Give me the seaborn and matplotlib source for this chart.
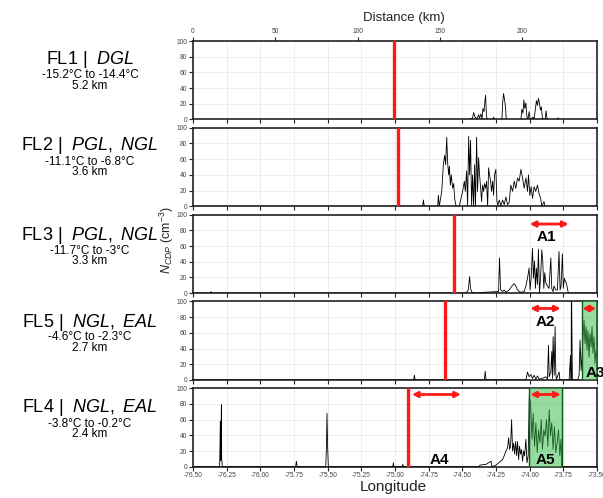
import numpy as np
import pandas as pd
import matplotlib
matplotlib.use("Agg")
import matplotlib.pyplot as plt
import seaborn as sns
from matplotlib.ticker import MultipleLocator, FormatStrFormatter

# ---------------- data ----------------
flight_names = ["FL1", "FL2", "FL3", "FL5", "FL4"]
flight_regimes = ["DGL", "PGL,\\ NGL", "PGL,\\ NGL", "NGL,\\ EAL", "NGL,\\ EAL"]
flight_temps = ["-15.2°C to -14.4°C", "-11.1°C to -6.8°C", "-11.7°C to -3°C",
                "-4.6°C to -2.3°C", "-3.8°C to -0.2°C"]
flight_alts = ["5.2 km", "3.6 km", "3.3 km", "2.7 km", "2.4 km"]
red_line_lon = [-75.01, -74.976, -74.563, -74.63, -74.90]

fl1_lon = [-76.5, -74.448, -74.424, -74.416, -74.406, -74.391, -74.379, -74.372, -74.362, -74.354,
           -74.347, -74.339, -74.332, -74.327, -74.322, -74.317, -74.275, -74.268, -74.261, -74.206,
           -74.201, -74.194, -74.187, -74.179, -74.174, -74.065, -74.058, -74.050, -74.043, -74.036,
           -74.028, -74.021, -74.013, -74.004, -73.996, -73.974, -73.967, -73.957, -73.950, -73.942,
           -73.935, -73.927, -73.920, -73.913, -73.905, -73.885, -73.878, -73.870, -73.794, -73.789,
           -73.784, -73.5]
fl1_n = [0, 0, 2, 9, 3, 1, 6, 2, 7, 1,
         14, 10, 24, 31, 8, 0, 0, 3, 0, 0,
         20, 33, 26, 15, 0, 0, 13, 8, 25, 14,
         21, 4, 0, 10, 0, 3, 0, 14, 24, 18,
         27, 20, 12, 16, 1, 0, 11, 0, 0, 2,
         0, 0]

fl2_lon = [-76.5, -74.795, -74.789, -74.783, -74.683, -74.678, -74.671, -74.653, -74.641, -74.631,
           -74.624, -74.616, -74.609, -74.601, -74.596, -74.589, -74.582, -74.572, -74.564, -74.557,
           -74.547, -74.523, -74.498, -74.485, -74.478, -74.468, -74.461, -74.453, -74.446, -74.439,
           -74.431, -74.424, -74.416, -74.409, -74.402, -74.394, -74.387, -74.379, -74.372, -74.364,
           -74.357, -74.350, -74.342, -74.335, -74.327, -74.320, -74.312, -74.305, -74.298, -74.290,
           -74.283, -74.275, -74.268, -74.261, -74.251, -74.243, -74.236, -74.226, -74.214, -74.201,
           -74.189, -74.177, -74.164, -74.152, -74.140, -74.127, -74.115, -74.103, -74.090, -74.078,
           -74.065, -74.053, -74.041, -74.028, -74.016, -74.009, -73.999, -73.989, -73.979, -73.967,
           -73.955, -73.942, -73.930, -73.918, -73.910, -73.893, -73.888, -73.5]
fl2_n = [0, 0, 8, 0, 0, 14, 0, 19, 53, 65,
         53, 88, 55, 40, 51, 27, 40, 23, 29, 10,
         0, 0, 19, 32, 19, 45, 0, 89, 40, 84,
         0, 40, 0, 53, 0, 88, 19, 62, 40, 23,
         6, 27, 19, 29, 23, 32, 0, 49, 40, 32,
         19, 32, 14, 40, 47, 6, 1, 8, 1, 8,
         2, 12, 2, 5, 27, 19, 32, 23, 36, 32,
         47, 36, 23, 36, 19, 40, 14, 25, 10, 25,
         19, 27, 16, 10, 0, 6, 0, 0]

fl3_lon = [-76.5, -76.372, -76.366, -76.360, -74.473, -74.456, -74.446, -74.439, -74.429, -74.399,
           -74.337, -74.231, -74.224, -74.216, -74.201, -74.189, -74.177, -74.152, -74.140, -74.127,
           -74.115, -74.103, -74.090, -74.078, -74.065, -74.041, -74.028, -74.016, -74.004, -73.997,
           -73.989, -73.979, -73.972, -73.964, -73.957, -73.950, -73.942, -73.935, -73.927, -73.918,
           -73.910, -73.903, -73.895, -73.888, -73.880, -73.868, -73.856, -73.843, -73.836, -73.826,
           -73.819, -73.806, -73.794, -73.782, -73.774, -73.767, -73.757, -73.750, -73.742, -73.735,
           -73.727, -73.720, -73.713, -73.5]
fl3_n = [0, 0, 2, 0, 0, 4, 21, 6, 1, 0,
         1, 2, 45, 4, 2, 4, 1, 4, 7, 10,
         12, 9, 4, 2, 1, 2, 9, 19, 32, 4,
         19, 57, 19, 41, 6, 32, 11, 56, 0, 24,
         55, 41, 6, 26, 13, 9, 6, 45, 6, 2,
         9, 4, 4, 53, 4, 9, 50, 6, 19, 15,
         13, 6, 0, 0]

fl5_lon = [-76.5, -74.862, -74.856, -74.850, -74.336, -74.330, -74.324, -74.028, -74.016, -74.004,
           -73.991, -73.979, -73.967, -73.954, -73.942, -73.930, -73.905, -73.880, -73.868, -73.860,
           -73.855, -73.843, -73.836, -73.831, -73.826, -73.818, -73.811, -73.806, -73.801, -73.781,
           -73.776, -73.707, -73.697, -73.692, -73.690, -73.683, -73.643, -73.633, -73.626, -73.618,
           -73.611, -73.604, -73.596, -73.589, -73.581, -73.574, -73.567, -73.559, -73.552, -73.544,
           -73.537, -73.530, -73.522, -73.515, -73.507, -73.5]
fl5_n = [0, 0, 6, 0, 0, 11, 0, 0, 10, 4,
         7, 2, 6, 1, 5, 1, 2, 4, 1, 44,
         4, 10, 36, 2, 55, 6, 68, 8, 1, 10,
         0, 0, 31, 0, 140, 0, 0, 6, 51, 12,
         30, 55, 76, 46, 68, 38, 63, 29, 59, 42,
         68, 34, 55, 21, 38, 30]

fl4_lon = [-76.5, -76.302, -76.297, -76.294, -76.292, -76.289, -76.287, -76.282, -75.738, -75.732,
           -75.726, -75.514, -75.509, -75.505, -75.500, -75.495, -75.016, -75.012, -75.008, -74.946,
           -74.942, -74.938, -74.374, -74.370, -74.324, -74.287, -74.280, -74.250, -74.201, -74.189,
           -74.176, -74.164, -74.156, -74.149, -74.142, -74.134, -74.127, -74.119, -74.112, -74.104,
           -74.097, -74.090, -74.082, -74.075, -74.067, -74.060, -74.053, -74.045, -74.038, -74.028,
           -74.020, -74.011, -74.003, -73.993, -73.983, -73.974, -73.964, -73.954, -73.944, -73.934,
           -73.924, -73.914, -73.905, -73.895, -73.885, -73.875, -73.865, -73.855, -73.846, -73.836,
           -73.826, -73.816, -73.806, -73.796, -73.786, -73.776, -73.767, -73.762, -73.5]
fl4_n = [0, 0, 58, 8, 45, 79, 10, 0, 0, 7,
         0, 0, 26, 68, 24, 0, 0, 5, 0, 0,
         3, 0, 0, 2, 3, 7, 0, 2, 9, 14,
         20, 24, 37, 22, 26, 60, 20, 30, 16, 32,
         14, 32, 9, 26, 16, 22, 7, 20, 14, 35,
         5, 14, 89, 81, 35, 68, 26, 56, 18, 47,
         30, 60, 22, 47, 39, 60, 26, 73, 39, 56,
         22, 51, 18, 30, 47, 14, 35, 0, 0]

traces_lon = [fl1_lon, fl2_lon, fl3_lon, fl5_lon, fl4_lon]
traces_n = [fl1_n, fl2_n, fl3_n, fl5_n, fl4_n]

# annotations: panel index, start lon, end lon, y
arrow_panel = [2, 3, 3, 4, 4]
arrow_start = [-74.00, -73.996, -73.609, -74.875, -73.996]
arrow_end = [-73.71, -73.769, -73.505, -74.510, -73.769]
arrow_y = [88, 91, 91, 92, 92]
label_panel = [2, 3, 3, 4, 4]
label_text = ["A1", "A2", "A3", "A4", "A5"]
label_lon = [-73.876, -73.880, -73.585, -74.670, -73.885]
label_y = [71, 74, 9, 9, 9]
label_ha = ["center", "center", "left", "center", "center"]
span_panel = [3, 4]
span_start = [-73.609, -74.003]
span_end = [-73.5, -73.762]

distance_ticks = [0, 50, 100, 150, 200]
km_per_deg = 81.8

# ---------------- style ----------------
sns.set_theme(style="whitegrid")
plt.rcParams["font.family"] = ["Liberation Sans", "DejaVu Sans"]
plt.rcParams["mathtext.fontset"] = "custom"
plt.rcParams["mathtext.rm"] = "Liberation Sans"
plt.rcParams["mathtext.it"] = "Liberation Sans:italic"
plt.rcParams["mathtext.bf"] = "Liberation Sans:bold"

W, H = 603, 498
fig = plt.figure(figsize=(W / 100, H / 100), dpi=100)

left_px, right_px = 193, 597
top0, pitch, ph = 41, 86.8, 78.5
axes = []
for i in range(5):
    top = top0 + i * pitch
    ax = fig.add_axes([left_px / W, 1 - (top + ph) / H, (right_px - left_px) / W, ph / H])
    axes.append(ax)

for i, ax in enumerate(axes):
    df = pd.DataFrame({"lon": traces_lon[i], "n": traces_n[i]})
    sns.lineplot(data=df, x="lon", y="n", ax=ax, color="black", lw=0.6,
                 estimator=None, sort=False, zorder=3)
    ax.axvline(red_line_lon[i], color="#ff1a1a", lw=2.4, zorder=4)
    ax.set_xlim(-76.5, -73.5)
    ax.set_ylim(0, 100)
    ax.set_xlabel("")
    ax.set_ylabel("")
    ax.xaxis.set_major_locator(MultipleLocator(0.25))
    ax.yaxis.set_major_locator(MultipleLocator(20))
    ax.grid(True, color="#ebebeb", lw=0.6)
    for s in ax.spines.values():
        s.set_color("#222222")
        s.set_linewidth(1.2)
    ax.tick_params(axis="both", which="major", length=3, width=0.8, color="#222222",
                   labelsize=4.8, labelcolor="#444444", pad=1,
                   bottom=True, left=True)
    ax.xaxis.set_major_formatter(FormatStrFormatter("%.2f"))
    if i < 4:
        ax.tick_params(axis="x", labelbottom=False)

for p, s0, s1 in zip(span_panel, span_start, span_end):
    axes[p].axvspan(s0, s1, color="#2eba42", alpha=0.5, lw=0, zorder=5)
    axes[p].axvline(s0, color="#0e5a18", lw=1.0, zorder=5)
    axes[p].axvline(s1, color="#0e5a18", lw=1.0, zorder=5)

for p, s0, s1, y in zip(arrow_panel, arrow_start, arrow_end, arrow_y):
    axes[p].annotate("", xy=(s0, y), xytext=(s1, y),
                     arrowprops=dict(arrowstyle="<|-|>", color="#ff1a1a", lw=2,
                                     mutation_scale=8, shrinkA=0, shrinkB=0),
                     zorder=6)
for p, t, x, y, ha in zip(label_panel, label_text, label_lon, label_y, label_ha):
    axes[p].text(x, y, t, ha=ha, va="center", fontsize=11, fontweight="bold",
                 color="black", zorder=7, clip_on=False)

# top distance axis
sec = axes[0].secondary_xaxis("top", functions=(lambda x: (x + 76.5) * km_per_deg,
                                                lambda d: d / km_per_deg - 76.5))
sec.set_xticks(distance_ticks)
sec.tick_params(length=3, width=0.8, labelsize=4.8, labelcolor="#444444", pad=1)
sec.spines["top"].set_visible(False)
fig.text(404 / W, 1 - 18 / H, "Distance (km)", ha="center", va="center", fontsize=9.5,
         color="#222222")
fig.text(393 / W, 1 - 487 / H, "Longitude", ha="center", va="center", fontsize=11,
         color="#222222")
fig.text(167 / W, 1 - 240 / H, r"$N_{CDP}$ (cm$^{-3}$)", rotation=90, ha="center",
         va="center", fontsize=9, color="#222222")

# left flight descriptions
title_y = [60, 146, 235, 322, 408]
for i in range(5):
    ty = title_y[i]
    fig.text(90 / W, 1 - ty / H, flight_names[i] + r" |  $\mathit{" + flight_regimes[i] + "}$",
             ha="center", va="center", fontsize=13, color="black")
    fig.text(90 / W, 1 - (ty + 15.5) / H, flight_temps[i], ha="center", va="center",
             fontsize=8.5, color="black")
    fig.text(90 / W, 1 - (ty + 26) / H, flight_alts[i], ha="center", va="center",
             fontsize=8.5, color="black")

fig.savefig("out.png", dpi=100)
